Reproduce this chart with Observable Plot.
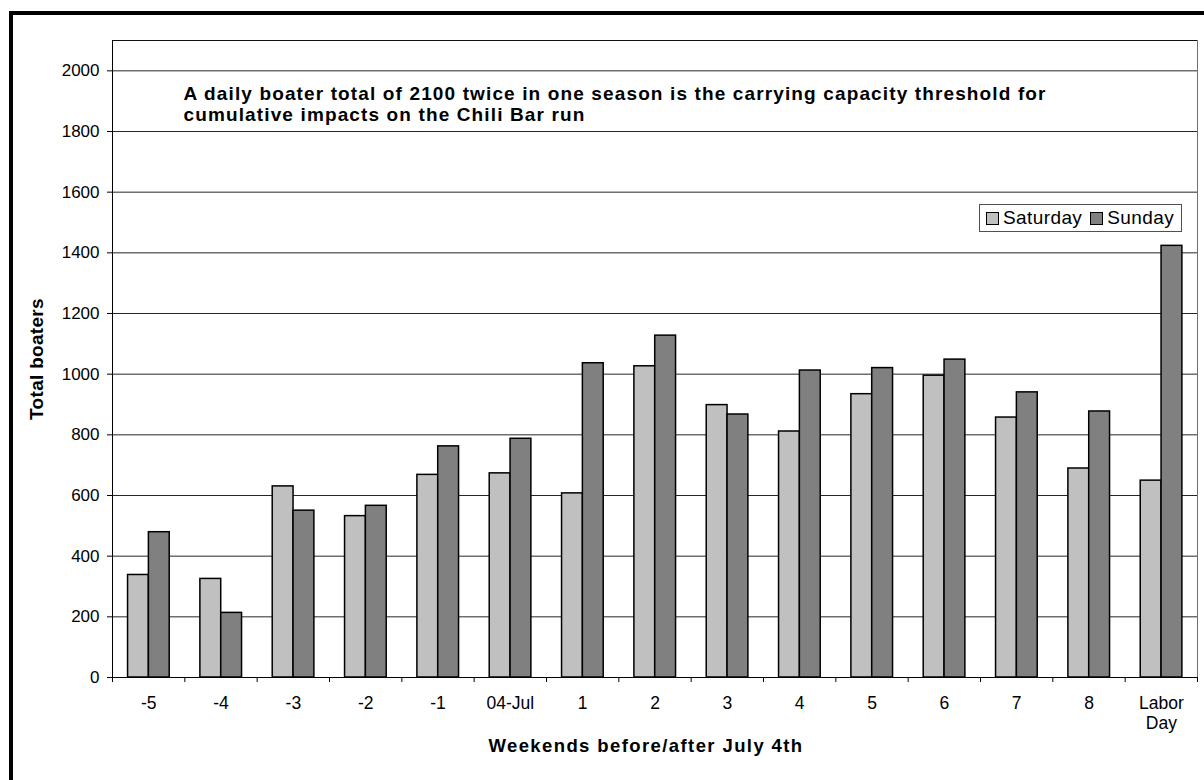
<!DOCTYPE html>
<html>
<head>
<meta charset="utf-8">
<script src="https://cdn.jsdelivr.net/npm/d3@7"></script>
<script src="https://cdn.jsdelivr.net/npm/@observablehq/plot@0.6"></script>
<style>
  html, body { margin: 0; padding: 0; background: #fff; overflow: hidden; }
  #wrap { position: relative; width: 1204px; height: 780px; font-family: "Liberation Sans", Arial, sans-serif; }
  #chart svg { display: block; }
  #border { position: absolute; left: 9px; top: 11px; width: 1400px; height: 1000px; border: 4px solid #000; box-sizing: border-box; pointer-events: none; }
  #legend { position: absolute; left: 979px; top: 204px; width: 203px; height: 28px; border: 1px solid #505050; box-sizing: border-box; background: #fff;
            display: flex; align-items: center; font-size: 19px; letter-spacing: 0.4px; color: #000; }
  #legend .item { display: flex; align-items: center; margin-left: 6px; }
  #legend .item + .item { margin-left: 8px; }
  #legend .sw { width: 11px; height: 11px; border: 1px solid #000; margin-right: 4px; }
</style>
</head>
<body>
<div id="wrap">
  <div id="chart"></div>
  <div id="legend"></div>
  <div id="border"></div>
</div>
<script>
const categories = ["-5", "-4", "-3", "-2", "-1", "04-Jul", "1", "2", "3", "4", "5", "6", "7", "8", "Labor Day"];
const saturday = [338, 325, 630, 532, 668, 673, 607, 1026, 898, 811, 934, 995, 857, 689, 649];
const sunday   = [479, 213, 550, 566, 762, 787, 1036, 1127, 867, 1012, 1020, 1048, 940, 877, 1423];
const seriesNames = ["Saturday", "Sunday"];
const seriesColors = ["#c0c0c0", "#808080"];
const yTicks = [0, 200, 400, 600, 800, 1000, 1200, 1400, 1600, 1800, 2000];
const yLabel = "Total boaters";
const xLabel = "Weekends before/after July 4th";
const note = "A daily boater total of 2100 twice in one season is the carrying capacity threshold for\ncumulative impacts on the Chili Bar run";

const W = 1204, H = 780;
const mL = 112, mR = 7, mT = 40, mB = 103;
const innerW = W - mL - mR, innerH = H - mT - mB;
const bw = innerW / categories.length;
const groupStart = 0.215, barFrac = 0.288;

const rows = (vals, name) => categories.map((c, i) => ({category: c, day: name, value: vals[i]}));
const satRows = rows(saturday, seriesNames[0]);
const sunRows = rows(sunday, seriesNames[1]);

const chart = Plot.plot({
  width: W, height: H,
  marginLeft: mL, marginRight: mR, marginTop: mT, marginBottom: mB,
  style: {fontFamily: "Liberation Sans, Arial, sans-serif", fontSize: "16px", color: "#000", background: "#fff"},
  x: {type: "band", domain: categories, padding: 0, round: false},
  y: {domain: [0, 2100]},
  marks: [
    Plot.gridY({ticks: yTicks, stroke: "#000", strokeOpacity: 0.85}),
    Plot.frame({stroke: "#707070"}),
    Plot.ruleY([2100], {stroke: "#000", strokeOpacity: 0.85}),
    Plot.barY(satRows, {x: "category", y: "value", fill: seriesColors[0], stroke: "#000", strokeWidth: 1.5,
      insetLeft: bw * groupStart, insetRight: bw * (1 - groupStart - barFrac)}),
    Plot.barY(sunRows, {x: "category", y: "value", fill: seriesColors[1], stroke: "#000", strokeWidth: 1.5,
      insetLeft: bw * (groupStart + barFrac), insetRight: bw * (1 - groupStart - 2 * barFrac)}),
    Plot.ruleY([0], {stroke: "#000"}),
    Plot.ruleX([categories[0]], {x: d => d, dx: -bw / 2, stroke: "#000", insetBottom: -5}),
    Plot.ruleX(categories, {x: d => d, dx: bw / 2, stroke: "#000", insetTop: innerH, insetBottom: -5}),
    Plot.axisY({ticks: yTicks, tickSize: 5, tickPadding: 8, label: null, fontSize: 17, tickFormat: d => String(d)}),
    Plot.axisX({tickSize: 0, tickPadding: 17, label: null, fontSize: 17.5, lineHeight: 1.15,
      tickFormat: d => d.replace(" ", "\n")}),
    Plot.text([yLabel], {text: d => d, frameAnchor: "left", textAnchor: "middle", rotate: -90, dx: -76,
      fontWeight: "bold", fontSize: 19}),
    Plot.text([xLabel], {text: d => d, frameAnchor: "bottom", textAnchor: "middle", dx: -9, dy: 74,
      fontWeight: "bold", fontSize: 18.5}),
    Plot.text([note], {text: d => d, frameAnchor: "top-left", textAnchor: "start", lineAnchor: "top",
      dx: 71, dy: 45, fontWeight: "bold", fontSize: 19, lineHeight: 1.105})
  ]
});
document.getElementById("chart").appendChild(chart);

// widen the bold titles slightly, as in the original
const spacing = new Map([[yLabel, "0.3px"], [xLabel, "1.4px"], [note, "1.13px"]]);
chart.querySelectorAll('g[aria-label="text"] text').forEach(t => {
  const full = Array.from(t.querySelectorAll("tspan")).map(s => s.textContent).join("\n") || t.textContent;
  for (const [k, v] of spacing) if (full === k || t.textContent === k.replace(/\n/g, "")) t.style.letterSpacing = v;
});

const legend = document.getElementById("legend");
seriesNames.forEach((name, i) => {
  const item = document.createElement("div");
  item.className = "item";
  const sw = document.createElement("div");
  sw.className = "sw";
  sw.style.background = seriesColors[i];
  const t = document.createElement("span");
  t.textContent = name;
  item.appendChild(sw); item.appendChild(t);
  legend.appendChild(item);
});
</script>
</body>
</html>
